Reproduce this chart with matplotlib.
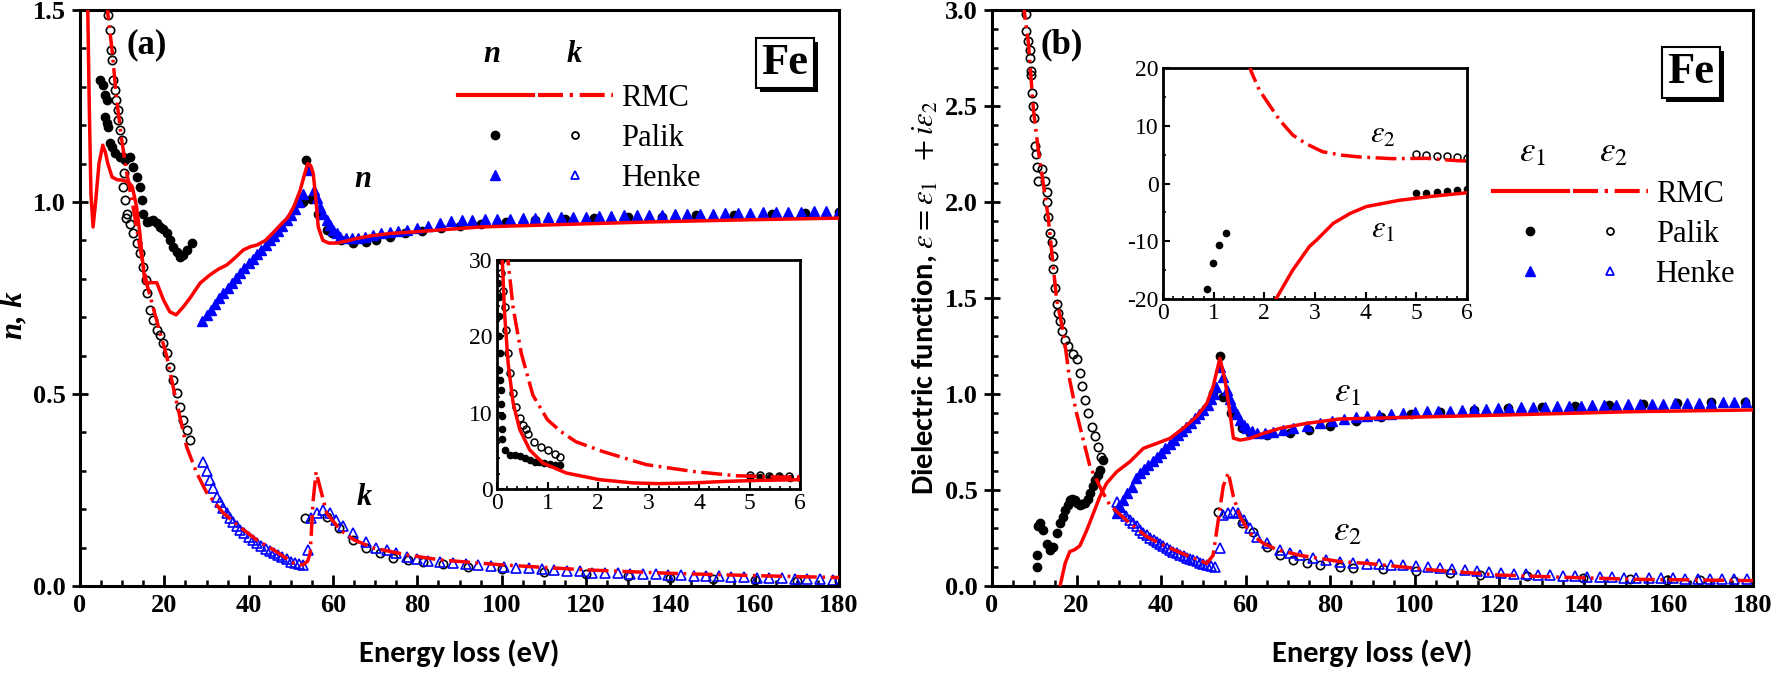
import numpy as np
import matplotlib
matplotlib.use("Agg")
import matplotlib.pyplot as plt
from matplotlib.legend_handler import HandlerTuple
from matplotlib.lines import Line2D
from matplotlib.ticker import MultipleLocator
from matplotlib import patheffects

plt.rcParams['mathtext.fontset'] = 'stix'
plt.rcParams['font.family'] = ['Liberation Serif', 'DejaVu Serif']

RED = '#ff0000'
BLUE = '#0000ff'
DASHDOT = (0, (6, 1.6, 0.8, 1.6))
SANS = 'Carlito'

# ---------------- panel (a): n, k ----------------
rmc_n_E = [1.7, 2.2, 2.6, 3.1, 3.7, 4.5, 5.4, 6.0, 6.6, 7.6,
           8.8, 10.0, 11.5, 12.4, 13.4, 14.2, 14.9, 15.4, 16.5, 18.2,
           19.8, 21.3, 22.8, 24.5, 26.1, 28.5, 30.8, 32.8, 34.8, 36.8,
           38.7, 40.5, 42.0, 44.0, 45.8, 47.5, 49.3, 50.8, 52.2, 53.2,
           54.0, 54.7, 55.3, 56.0, 56.5, 57.6, 59.0, 60.9, 63.0, 65.6,
           69.0, 73.5, 79.0, 85.0, 95.0, 110.0, 135.0, 160.0, 180.0]
rmc_n = [1.60, 1.25, 1.02, 0.935, 1.00, 1.10, 1.148, 1.13, 1.10, 1.065,
         1.058, 1.057, 1.052, 1.04, 0.988, 0.918, 0.84, 0.79, 0.79, 0.79,
         0.745, 0.714, 0.706, 0.727, 0.75, 0.789, 0.81, 0.825, 0.836, 0.855,
         0.875, 0.884, 0.888, 0.90, 0.92, 0.94, 0.96, 0.99, 1.03, 1.07,
         1.10, 1.095, 1.075, 1.00, 0.935, 0.90, 0.893, 0.893, 0.898, 0.905,
         0.912, 0.918, 0.922, 0.927, 0.935, 0.94, 0.948, 0.954, 0.958]

rmc_k_E = [6.0, 6.6, 7.6, 8.7, 9.9, 11.1, 12.6, 14.2, 15.8, 17.3,
           19.0, 20.6, 22.1, 23.7, 25.3, 27.7, 30.1, 34.0, 37.9, 41.9,
           45.9, 50.6, 52.9, 54.0, 54.6, 55.3, 56.0, 56.9, 58.5, 61.7,
           65.0, 69.6, 77.5, 85.4, 100, 120, 140, 160, 180]
rmc_k = [1.62, 1.49, 1.396, 1.266, 1.161, 1.075, 0.987, 0.883, 0.789, 0.727,
         0.659, 0.597, 0.518, 0.44, 0.362, 0.294, 0.242, 0.19, 0.154, 0.12,
         0.094, 0.06, 0.055, 0.065, 0.086, 0.224, 0.297, 0.258, 0.19, 0.146,
         0.12, 0.099, 0.081, 0.068, 0.055, 0.042, 0.033, 0.027, 0.022]

palik_n_E = [4.7, 5.5, 5.9, 6.3, 5.9, 6.3, 6.7, 7.1, 7.5, 8.3,
             9.5, 10.7, 11.9, 12.6, 13.4, 14.2, 14.6, 15.0, 15.8, 16.6,
             17.4, 18.2, 19.0, 19.8, 20.6, 21.3, 22.1, 22.9, 23.7, 24.5,
             25.3, 26.5,
             53.0, 53.7, 54.9, 56.5, 58.5, 59.7, 62.0, 64.8, 67.9, 70.3,
             73.5, 77.0, 81.0, 85.5, 90, 95, 101, 108, 115, 122,
             130, 138, 146, 155, 164, 172, 180]
palik_n = [1.318, 1.305, 1.279, 1.266, 1.222, 1.205, 1.196, 1.153, 1.144, 1.127,
           1.118, 1.109, 1.118, 1.092, 1.066, 1.04, 1.005, 0.97, 0.949, 0.95,
           0.953, 0.945, 0.936, 0.93, 0.918, 0.90, 0.884, 0.87, 0.858, 0.862,
           0.875, 0.892,
           1.0, 1.109, 1.007, 0.97, 0.927, 0.918, 0.90, 0.892, 0.897, 0.90,
           0.91, 0.918, 0.925, 0.932, 0.938, 0.943, 0.948, 0.952, 0.955, 0.958,
           0.96, 0.962, 0.965, 0.967, 0.97, 0.972, 0.974]

palik_k_E = [6.7, 7.1, 7.3, 7.5, 7.9, 8.3, 8.5, 8.9, 9.1, 9.5,
             9.9, 10.3, 10.4, 10.1, 10.7, 11.2, 10.9, 11.9, 12.6, 13.4,
             14.2, 15.0, 15.7, 15.9, 16.6, 17.4, 18.2, 19.0, 19.8, 20.6,
             21.3, 22.1, 22.9, 23.7, 24.5, 25.3, 26.1,
             53.4, 58.5, 61.5, 64.8, 67.9, 71.1, 74.3, 77.7, 81.4, 86,
             92, 100, 110, 120, 130, 140, 150, 160, 170, 180]
palik_k = [1.487, 1.448, 1.396, 1.37, 1.318, 1.292, 1.266, 1.24, 1.214, 1.188,
           1.161, 1.118, 1.075, 1.04, 1.005, 0.97, 0.958, 0.944, 0.918, 0.892,
           0.866, 0.831, 0.797, 0.762, 0.719, 0.693, 0.667, 0.654, 0.632, 0.606,
           0.571, 0.536, 0.502, 0.467, 0.432, 0.406, 0.38,
           0.176, 0.18, 0.15, 0.12, 0.10, 0.085, 0.072, 0.068, 0.063, 0.057,
           0.05, 0.045, 0.037, 0.03, 0.026, 0.022, 0.018, 0.015, 0.013, 0.012]

henke_n_E = [29, 30, 31, 32, 33, 34, 35, 36, 37, 38,
             39, 40, 41, 42, 43, 44, 45, 46, 47, 48,
             49, 50, 51, 52, 53, 54.1, 55.4, 56.2, 56.9, 57.7,
             58.5, 59.3, 60.1, 60.9, 61.7, 63, 64.5, 66, 67.5, 69.6,
             71.5, 73.5, 75.5, 77.5, 80, 82.5, 85.4, 88, 90.5, 93,
             96, 99, 102, 105, 108, 111, 114, 117, 120, 123,
             126, 129, 132, 135, 138, 141, 144, 147, 150, 153,
             156, 159, 162, 165, 168, 171, 174, 177, 180]
henke_n = [0.69, 0.705, 0.72, 0.735, 0.75, 0.763, 0.776, 0.79, 0.803, 0.816,
           0.828, 0.84, 0.852, 0.864, 0.876, 0.888, 0.90, 0.912, 0.925, 0.938,
           0.952, 0.966, 0.982, 1.0, 1.02, 1.083, 1.03, 1.01, 0.988, 0.97,
           0.953, 0.94, 0.927, 0.918, 0.91, 0.906, 0.905, 0.907, 0.91, 0.914,
           0.918, 0.922, 0.925, 0.927, 0.932, 0.938, 0.945, 0.95, 0.953, 0.954,
           0.955, 0.956, 0.957, 0.958, 0.959, 0.96, 0.961, 0.962, 0.962, 0.963,
           0.964, 0.965, 0.966, 0.966, 0.967, 0.968, 0.969, 0.97, 0.97, 0.971,
           0.972, 0.972, 0.973, 0.974, 0.975, 0.975, 0.976, 0.977, 0.977]

henke_k_E = [29.2, 30, 30.8, 31.6, 32.4, 33.2, 34, 34.8, 35.6, 36.4,
             37.2, 38, 39, 40, 41, 42, 43, 44, 45, 46,
             47, 48, 49, 50, 51, 52, 53, 54.1, 54.9, 56.1,
             57.7, 59.2, 60.8, 62.4, 64.8, 67.9, 70.3, 72.7, 75, 77.5,
             80, 82.5, 85.4, 88.5, 91.5, 94.5, 97.5, 100.5, 103.5, 106.5,
             109.5, 112.5, 115.5, 118.5, 121.5, 124.5, 127.5, 130.5, 133.5, 136.5,
             139.5, 142.5, 145.5, 148.5, 151.5, 154.5, 157.5, 160.5, 163.5, 166.5,
             169.5, 172.5, 175.5, 178.5]
henke_k = [0.324, 0.30, 0.276, 0.254, 0.233, 0.218, 0.203, 0.189, 0.177, 0.166,
           0.155, 0.146, 0.137, 0.128, 0.12, 0.111, 0.104, 0.097, 0.09, 0.085,
           0.08, 0.075, 0.07, 0.063, 0.06, 0.057, 0.055, 0.094, 0.176, 0.189,
           0.198, 0.19, 0.172, 0.155, 0.137, 0.115, 0.10, 0.094, 0.085, 0.076,
           0.07, 0.066, 0.063, 0.06, 0.057, 0.054, 0.052, 0.05, 0.048, 0.046,
           0.044, 0.042, 0.04, 0.038, 0.035, 0.034, 0.033, 0.032, 0.031, 0.03,
           0.029, 0.028, 0.027, 0.026, 0.025, 0.024, 0.023, 0.022, 0.021, 0.02,
           0.019, 0.018, 0.017, 0.016]

# inset (a), 0-6 eV
in_rmc_n_E = [0.09, 0.105, 0.15, 0.22, 0.32, 0.45, 0.65, 0.91, 1.37, 2.03,
              2.69, 3.2, 3.88, 4.54, 5.2, 6.0]
in_rmc_n = [32, 30, 23, 16.5, 11.25, 7.8, 5.1, 3.4, 2.1, 1.22,
            0.8, 0.7, 0.8, 1.0, 1.13, 1.22]
in_rmc_k_E = [0.2, 0.22, 0.32, 0.48, 0.71, 1.0, 1.27, 1.56, 2.1, 2.95,
              3.88, 4.73, 5.52, 6.0]
in_rmc_k = [32, 29.8, 23.7, 17.8, 12.3, 9.07, 7.5, 6.2, 4.9, 3.2,
            2.3, 1.74, 1.57, 1.57]
in_palik_n_E = [0.02, 0.02, 0.03, 0.04, 0.04, 0.05, 0.04, 0.05, 0.07, 0.07,
                0.09, 0.09, 0.1, 0.15, 0.25, 0.35, 0.45, 0.55, 0.65, 0.75,
                0.84, 0.94, 1.04, 1.14, 1.24, 5.0, 5.2, 5.4, 5.6, 5.8, 6.0]
in_palik_n = [30, 27, 25.2, 22.6, 20, 17.8, 15.6, 14.3, 13, 11.2,
              9.5, 7.8, 6.5, 5.1, 4.5, 4.4, 4.3, 4.1, 3.8, 3.6,
              3.5, 3.4, 3.3, 3.2, 3.1, 1.6, 1.6, 1.55, 1.55, 1.5, 1.5]
in_palik_k_E = [0.07, 0.086, 0.11, 0.15, 0.18, 0.22, 0.25, 0.32, 0.38, 0.45,
                0.51, 0.58, 0.61, 0.74, 0.88, 1.0, 1.14, 1.24,
                5.0, 5.2, 5.39, 5.59, 5.79]
in_palik_k = [30, 28.3, 26, 23.9, 20.8, 17.8, 15.2, 12.6, 10.8, 9.3,
              8.4, 7.8, 7.2, 6.1, 5.5, 5.1, 4.6, 4.2,
              1.8, 1.8, 1.7, 1.66, 1.66]

# ---------------- panel (b): dielectric function ----------------
rmc_e1_E = [15.9, 16.1, 17.3, 18.4, 19.6, 20.8, 22.4, 24.0, 25.5, 27.1,
            29.5, 32.6, 35.8, 39.0, 42.1, 45.2, 48.4, 50.8, 52.3, 53.9,
            55.1, 56.3, 57.1, 58.7, 61.0, 64.2, 68.1, 74.4, 82.3, 88.6,
            104.4, 120.2, 135.9, 151.7, 167.5, 180]
rmc_e1 = [-0.03, 0.0, 0.118, 0.179, 0.19, 0.21, 0.29, 0.38, 0.465, 0.535,
          0.595, 0.647, 0.717, 0.743, 0.769, 0.821, 0.882, 0.951, 1.038, 1.186,
          1.073, 0.9, 0.77, 0.76, 0.769, 0.795, 0.821, 0.847, 0.87, 0.873,
          0.882, 0.89, 0.899, 0.908, 0.913, 0.917]

rmc_e2_E = [7.3, 7.6, 8.6, 9.8, 10.95, 12.1, 13.3, 14.5, 15.3, 16.9,
            18.4, 20.0, 21.6, 23.2, 24.8, 25.9, 27.9, 31.9, 36.6, 41.3,
            46.0, 50.8, 52.3, 53.5, 54.7, 55.9, 57.1, 58.7, 61.0, 64.2,
            67.3, 72.8, 82.3, 88.6, 104.4, 120, 135.9, 151.7, 167.5, 180]
rmc_e2 = [3.1, 3.0, 2.83, 2.48, 2.27, 2.1, 1.92, 1.66, 1.49, 1.32,
          1.07, 0.9, 0.76, 0.62, 0.55, 0.5, 0.42, 0.34, 0.257, 0.205,
          0.16, 0.118, 0.16, 0.34, 0.52, 0.59, 0.465, 0.36, 0.275, 0.222,
          0.19, 0.16, 0.127, 0.118, 0.083, 0.057, 0.045, 0.035, 0.031, 0.028]

palik_e1_E = [10.6, 10.6, 10.95, 11.3, 12.1, 12.9, 13.7, 14.5, 15.3, 16.1,
              16.7, 17.3, 17.9, 18.4, 19.0, 19.6, 20.2, 20.8, 21.4, 22.0,
              22.6, 23.2, 23.8, 24.4, 25.0, 25.5, 26.3,
              52.3, 53.9, 54.7, 56.5, 59.1, 61.0, 65.0, 70.5, 75, 80,
              86, 92, 99, 106, 114, 122, 130, 138, 146, 154,
              162, 170, 178]
palik_e1 = [0.1, 0.16, 0.31, 0.33, 0.29, 0.22, 0.19, 0.205, 0.274, 0.326,
            0.36, 0.396, 0.42, 0.448, 0.455, 0.448, 0.43, 0.422, 0.425, 0.43,
            0.455, 0.483, 0.52, 0.552, 0.58, 0.604, 0.656,
            1.003, 1.198, 0.986, 0.9, 0.821, 0.795, 0.786, 0.795, 0.815, 0.835,
            0.86, 0.878, 0.895, 0.905, 0.915, 0.925, 0.932, 0.94, 0.945, 0.95,
            0.954, 0.957, 0.96]

palik_e2_E = [8.0, 8.0, 8.4, 9.0, 9.1, 9.2, 9.3, 9.5, 9.8, 10.0,
              10.2, 10.3, 10.6, 10.95, 11.8, 12.5, 12.9, 12.9, 13.3, 13.7,
              14.1, 14.5, 14.5, 14.9, 15.3, 15.7, 16.1, 16.5, 17.3, 18.0,
              19.2, 20.0, 20.8, 21.2, 22.0, 22.8, 23.6, 24.4, 25.1, 25.9,
              53.5, 59.1, 61.8, 65.0, 68.1, 71.3, 74.4, 77.6, 82.3, 85.5,
              92.6, 100.4, 108.3, 115.4, 126.5, 139.9, 151, 159.6, 167.5, 175.4]
palik_e2 = [2.98, 2.89, 2.84, 2.79, 2.75, 2.68, 2.66, 2.57, 2.5, 2.44,
            2.29, 2.25, 2.18, 2.11, 2.17, 2.11, 2.05, 2.0, 1.92, 1.84,
            1.79, 1.72, 1.65, 1.55, 1.47, 1.42, 1.38, 1.33, 1.28, 1.25,
            1.21, 1.18, 1.11, 1.04, 0.97, 0.9, 0.83, 0.78, 0.725, 0.673,
            0.387, 0.326, 0.28, 0.205, 0.16, 0.135, 0.118, 0.11, 0.1, 0.095,
            0.09, 0.08, 0.07, 0.057, 0.05, 0.04, 0.035, 0.031, 0.031, 0.028]

henke_e1_E = [29.5, 30.2, 31, 32, 33, 34, 35, 36, 37, 38,
              39, 40, 41, 42, 43, 44, 45, 46, 47, 48,
              49, 50, 51, 51.8, 52.5, 53.1, 53.9, 54.7, 55.5, 56.3,
              57.1, 57.9, 58.7, 59.5, 60.2, 61.4, 62.6, 64.5, 66.5, 68.9,
              71.3, 74.4, 77.6, 80.4, 83.2, 86, 88.8, 91.6, 94.4, 97.2,
              100, 102.8, 105.6, 108.4, 111.2, 114, 116.8, 119.6, 122.4, 125.2,
              128, 130.8, 133.6, 136.4, 139.2, 142, 144.8, 147.6, 150.4, 153.2,
              156, 158.8, 161.6, 164.4, 167.2, 170, 172.8, 175.6, 178.4]
henke_e1 = [0.38, 0.41, 0.45, 0.485, 0.515, 0.56, 0.587, 0.61, 0.632, 0.652,
            0.673, 0.695, 0.718, 0.74, 0.762, 0.785, 0.806, 0.828, 0.85, 0.873,
            0.895, 0.917, 0.945, 0.975, 1.0, 1.038, 1.14, 1.09, 1.02, 0.975,
            0.934, 0.898, 0.865, 0.84, 0.821, 0.805, 0.795, 0.798, 0.804, 0.812,
            0.821, 0.833, 0.847, 0.858, 0.87, 0.88, 0.886, 0.892, 0.898, 0.903,
            0.906, 0.909, 0.912, 0.914, 0.917, 0.92, 0.923, 0.925, 0.928, 0.93,
            0.931, 0.933, 0.935, 0.937, 0.939, 0.941, 0.943, 0.944, 0.946, 0.947,
            0.949, 0.95, 0.951, 0.952, 0.954, 0.955, 0.957, 0.958, 0.96]

henke_e2_E = [29.5, 30.1, 30.7, 31.6, 32.6, 33.4, 34.2, 35, 35.8, 36.6,
              37.4, 38.2, 39, 39.8, 40.5, 41.3, 42.1, 42.9, 43.7, 44.5,
              45.3, 46.1, 46.8, 47.6, 48.4, 49.2, 50, 50.8, 51.8, 52.7,
              53.9, 54.7, 55.9, 57.1, 58.3, 59.5, 61, 62.6, 65, 68.1,
              70.5, 72.8, 75.9, 79.1, 82.3, 85.5, 88.6, 91.5, 94.4, 97.3,
              100.2, 103.1, 106, 108.9, 111.8, 114.7, 117.6, 120.5, 123.4, 126.3,
              129.2, 132.1, 135, 137.9, 140.8, 143.7, 146.6, 149.5, 152.4, 155.3,
              158.2, 161.1, 164, 166.9, 169.8, 172.7, 175.6, 178.5]
henke_e2 = [0.439, 0.41, 0.387, 0.365, 0.344, 0.328, 0.31, 0.292, 0.278, 0.265,
            0.252, 0.24, 0.229, 0.218, 0.207, 0.196, 0.187, 0.178, 0.17, 0.161,
            0.155, 0.148, 0.141, 0.135, 0.128, 0.122, 0.116, 0.109, 0.104, 0.1,
            0.196, 0.37, 0.378, 0.387, 0.378, 0.344, 0.3, 0.257, 0.222, 0.188,
            0.172, 0.162, 0.148, 0.135, 0.126, 0.118, 0.115, 0.112, 0.11, 0.108,
            0.105, 0.1, 0.095, 0.09, 0.085, 0.08, 0.074, 0.069, 0.064, 0.06,
            0.057, 0.055, 0.052, 0.05, 0.048, 0.046, 0.045, 0.044, 0.043, 0.042,
            0.041, 0.04, 0.039, 0.038, 0.037, 0.036, 0.036, 0.035]

# inset (b), 0-6 eV
in_rmc_e1_E = [2.15, 2.23, 2.56, 2.89, 3.03, 3.36, 3.69, 4.01, 4.67, 5.33, 6.0]
in_rmc_e1 = [-21.5, -20, -15, -10.9, -9.8, -6.9, -5.2, -4.0, -2.9, -2.2, -1.6]
in_rmc_e2_E = [1.7, 1.74, 1.9, 2.03, 2.3, 2.56, 2.82, 3.15, 3.54, 3.87,
               4.52, 5.2, 5.79, 6.0]
in_rmc_e2 = [21, 19.4, 16.2, 14.5, 11.0, 8.4, 6.9, 5.5, 4.9, 4.6,
             4.3, 4.36, 3.96, 3.9]
in_palik_e1_E = [0.87, 0.98, 1.11, 1.24, 5.0, 5.2, 5.4, 5.6, 5.8, 6.0]
in_palik_e1 = [-18.2, -13.7, -10.6, -8.5, -1.7, -1.6, -1.5, -1.3, -1.1, -1.0]
in_palik_e2_E = [5.0, 5.2, 5.4, 5.6, 5.8, 6.0]
in_palik_e2 = [5.1, 4.94, 4.8, 4.77, 4.65, 4.5]

x_ticks = [0, 20, 40, 60, 80, 100, 120, 140, 160, 180]
inset_x_ticks = [0, 1, 2, 3, 4, 5, 6]


def style_main(ax, yticks):
    for sp in ax.spines.values():
        sp.set_linewidth(2.2)
    ax.set_xlim(0, 180)
    ax.set_ylim(yticks[0], yticks[-1])
    ax.set_xticks(x_ticks, [str(t) for t in x_ticks], fontweight='bold', fontsize=19)
    ax.set_yticks(yticks, ['%.1f' % t for t in yticks], fontweight='bold', fontsize=19)
    ax.xaxis.set_minor_locator(MultipleLocator(5))
    ax.yaxis.set_minor_locator(MultipleLocator(0.1))
    ax.tick_params(axis='x', which='major', direction='in', length=8, width=2, pad=6)
    ax.tick_params(axis='x', which='minor', direction='in', length=4, width=1.8)
    ax.tick_params(axis='y', which='major', direction='inout', length=12, width=2, pad=4)
    ax.tick_params(axis='y', which='minor', direction='in', length=4, width=1.8)
    ax.set_xlabel('Energy loss (eV)', fontfamily=SANS, fontweight='bold', fontsize=22, labelpad=16)


def style_inset(ax, yticks, yminor):
    for sp in ax.spines.values():
        sp.set_linewidth(2)
    ax.set_xlim(0, 6)
    ax.set_ylim(yticks[0], yticks[-1])
    ax.set_xticks(inset_x_ticks, [str(t) for t in inset_x_ticks], fontsize=17)
    ax.set_yticks(yticks, [str(t) for t in yticks], fontsize=17)
    ax.xaxis.set_minor_locator(MultipleLocator(0.2))
    ax.yaxis.set_minor_locator(MultipleLocator(yminor))
    ax.tick_params(which='major', direction='in', length=5, width=1.5, pad=3)
    ax.tick_params(which='minor', direction='in', length=2.5, width=1.2)


def fe_box(ax, x, y):
    t = ax.text(x, y, 'Fe', transform=ax.transAxes, color='black', fontsize=32,
                fontweight='bold', ha='center', va='center', zorder=10,
                bbox=dict(boxstyle='square,pad=0.12', fc='white', ec='black', lw=1.5))
    t.get_bbox_patch().set_path_effects([
        patheffects.SimplePatchShadow(offset=(3, -3), shadow_rgbFace='black', alpha=1.0),
        patheffects.Normal()])


def legend_rows(ax, x, y):
    h_rmc = (Line2D([], [], color=RED, lw=3), Line2D([], [], color=RED, lw=3, ls=DASHDOT))
    h_pal = (Line2D([], [], ls='none', marker='o', ms=6, color='black'),
             Line2D([], [], ls='none', marker='o', ms=5, mfc='none', mec='black', mew=1.3))
    h_hen = (Line2D([], [], ls='none', marker='^', ms=7, color=BLUE),
             Line2D([], [], ls='none', marker='^', ms=6, mfc='none', mec=BLUE, mew=1.3))
    ax.legend([h_rmc, h_pal, h_hen], ['RMC', 'Palik', 'Henke'],
              handler_map={tuple: HandlerTuple(ndivide=None, pad=0.16)},
              loc='upper left', bbox_to_anchor=(x, y), frameon=False, fontsize=22,
              handlelength=5.07, handletextpad=0.26, labelspacing=0.36,
              borderpad=0, borderaxespad=0)


fig = plt.figure(figsize=(17.72, 6.78), dpi=100)

# ---------- (a) ----------
ax1 = fig.add_axes([80 / 1772, 92 / 678, 759 / 1772, 576 / 678])
ax1.plot(palik_n_E, palik_n, 'o', ms=6, color='black', zorder=2)
ax1.plot(palik_k_E, palik_k, 'o', ms=6, mfc='none', mec='black', mew=1.2, zorder=2)
ax1.plot(henke_n_E, henke_n, '^', ms=7.5, color=BLUE, zorder=2)
ax1.plot(henke_k_E, henke_k, '^', ms=7.5, mfc='none', mec=BLUE, mew=1.2, zorder=2)
ax1.plot(rmc_n_E, rmc_n, color=RED, lw=2.5, zorder=3)
ax1.plot(rmc_k_E, rmc_k, color=RED, lw=2.5, ls=DASHDOT, zorder=3)
style_main(ax1, [0.0, 0.5, 1.0, 1.5])
ax1.set_ylabel('n, k', fontstyle='italic', fontweight='bold', fontsize=22)
ax1.yaxis.set_label_coords(-0.068, 0.47)
ax1.text(0.088, 0.939, '(a)', transform=ax1.transAxes, fontsize=25, fontweight='bold',
         ha='center', va='center')
ax1.text(0.373, 0.705, 'n', transform=ax1.transAxes, fontsize=22, fontweight='bold',
         fontstyle='italic', ha='center', va='center')
ax1.text(0.375, 0.153, 'k', transform=ax1.transAxes, fontsize=22, fontweight='bold',
         fontstyle='italic', ha='center', va='center')
ax1.text(0.543, 0.922, 'n', transform=ax1.transAxes, fontsize=22, fontweight='bold',
         fontstyle='italic', ha='center', va='center')
ax1.text(0.651, 0.922, 'k', transform=ax1.transAxes, fontsize=22, fontweight='bold',
         fontstyle='italic', ha='center', va='center')
legend_rows(ax1, 0.498, 0.872)
fe_box(ax1, 0.929, 0.908)

ins1 = fig.add_axes([497 / 1772, 189 / 678, 303 / 1772, 229 / 678])
ins1.plot(in_palik_n_E, in_palik_n, 'o', ms=4.5, color='black', zorder=2)
ins1.plot(in_palik_k_E, in_palik_k, 'o', ms=5, mfc='none', mec='black', mew=1.1, zorder=2)
ins1.plot(in_rmc_n_E, in_rmc_n, color=RED, lw=2.5, zorder=3)
ins1.plot(in_rmc_k_E, in_rmc_k, color=RED, lw=2.5, ls=DASHDOT, zorder=3)
style_inset(ins1, [0, 10, 20, 30], 2)

# ---------- (b) ----------
ax2 = fig.add_axes([992 / 1772, 92 / 678, 761 / 1772, 576 / 678])
ax2.plot(palik_e1_E, palik_e1, 'o', ms=6, color='black', zorder=2)
ax2.plot(palik_e2_E, palik_e2, 'o', ms=6, mfc='none', mec='black', mew=1.2, zorder=2)
ax2.plot(henke_e1_E, henke_e1, '^', ms=7.5, color=BLUE, zorder=2)
ax2.plot(henke_e2_E, henke_e2, '^', ms=7.5, mfc='none', mec=BLUE, mew=1.2, zorder=2)
ax2.plot(rmc_e1_E, rmc_e1, color=RED, lw=2.5, zorder=3)
ax2.plot(rmc_e2_E, rmc_e2, color=RED, lw=2.5, ls=DASHDOT, zorder=3)
style_main(ax2, [0.0, 0.5, 1.0, 1.5, 2.0, 2.5, 3.0])
ax2.set_ylabel(r'Dielectric function, $\varepsilon = \varepsilon_1\ \ + i\varepsilon_2$',
               fontfamily=SANS, fontweight='bold', fontsize=22)
ax2.yaxis.set_label_coords(-0.07, 0.5)
ax2.text(0.092, 0.939, '(b)', transform=ax2.transAxes, fontsize=25, fontweight='bold',
         ha='center', va='center')
ax2.text(0.4665, 0.335, r'$\varepsilon_1$', transform=ax2.transAxes, fontsize=25,
         ha='center', va='center')
ax2.text(0.4665, 0.094, r'$\varepsilon_2$', transform=ax2.transAxes, fontsize=25,
         ha='center', va='center')
ax2.text(0.7096, 0.752, r'$\varepsilon_1$', transform=ax2.transAxes, fontsize=25,
         ha='center', va='center')
ax2.text(0.816, 0.752, r'$\varepsilon_2$', transform=ax2.transAxes, fontsize=25,
         ha='center', va='center')
legend_rows(ax2, 0.658, 0.705)
fe_box(ax2, 0.9185, 0.892)

ins2 = fig.add_axes([1163 / 1772, 379 / 678, 304 / 1772, 231 / 678])
ins2.plot(in_palik_e1_E, in_palik_e1, 'o', ms=4.5, color='black', zorder=2)
ins2.plot(in_palik_e2_E, in_palik_e2, 'o', ms=5, mfc='none', mec='black', mew=1.1, zorder=2)
ins2.plot(in_rmc_e1_E, in_rmc_e1, color=RED, lw=2.5, zorder=3)
ins2.plot(in_rmc_e2_E, in_rmc_e2, color=RED, lw=2.5, ls=DASHDOT, zorder=3)
style_inset(ins2, [-20, -10, 0, 10, 20], 5)
ins2.text(4.34, 8.4, r'$\varepsilon_2$', fontsize=22, ha='center', va='center')
ins2.text(4.34, -8.05, r'$\varepsilon_1$', fontsize=22, ha='center', va='center')

fig.savefig('out.png', dpi=100)
